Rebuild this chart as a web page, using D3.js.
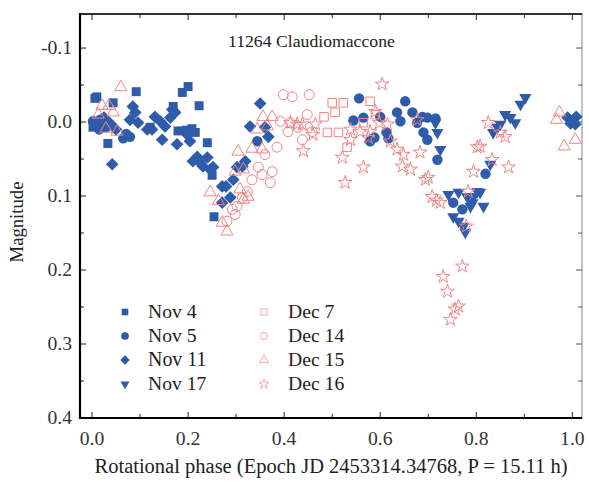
<!DOCTYPE html>
<html><head><meta charset="utf-8">
<script src="https://cdn.jsdelivr.net/npm/d3@7"></script>
<style>body{margin:0;background:#fff}svg{display:block}</style>
</head><body>
<svg id="c" width="589" height="483"></svg>
<script>
// ---- data: [phase, magnitude] ----
const nov4 = [[0.006,-0.032],[0.010,-0.034],[0.044,-0.026],[0.092,-0.041],[0.169,-0.021],[0.188,-0.040],[0.200,-0.048],[0.223,-0.022],[0.179,0.012],[0.208,0.009],[0.215,0.014],[0.240,0.028],[0.033,0.029],[0.250,0.072],[0.254,0.128],[0.002,0.007],[0.025,0.006],[0.121,0.007],[0.196,0.011]];
const nov5 = [[0.002,-0.001],[0.008,0.005],[0.015,0.010],[0.023,0.002],[0.017,-0.003],[0.029,0.007],[0.065,0.022],[0.079,0.020],[0.071,0.016],[0.344,0.026],[0.544,-0.002],[0.556,-0.032],[0.565,-0.006],[0.579,0.026],[0.588,0.021],[0.600,-0.007],[0.613,0.014],[0.617,0.022],[0.635,-0.013],[0.642,-0.001],[0.652,-0.028],[0.667,-0.013],[0.677,0.001],[0.688,-0.007],[0.698,-0.006],[0.715,-0.005],[0.690,0.014],[0.698,0.024],[0.719,0.051],[0.819,0.070],[0.752,0.109],[0.771,0.118]];
const nov11 = [[0.010,0.003],[0.025,-0.006],[0.038,0.002],[0.050,0.010],[0.042,0.057],[0.079,-0.003],[0.085,-0.021],[0.090,-0.013],[0.096,0.001],[0.115,0.010],[0.125,0.010],[0.131,-0.007],[0.142,-0.001],[0.146,0.024],[0.152,0.006],[0.163,-0.006],[0.167,-0.017],[0.173,-0.013],[0.177,0.030],[0.198,0.017],[0.204,0.026],[0.210,0.053],[0.219,0.047],[0.225,0.055],[0.231,0.060],[0.240,0.048],[0.246,0.064],[0.252,0.061],[0.271,0.087],[0.279,0.087],[0.288,0.102],[0.271,0.109],[0.294,0.078],[0.302,0.061],[0.319,0.053],[0.313,0.060],[0.329,0.006],[0.350,-0.025],[0.360,0.007],[0.367,0.020],[0.990,-0.006],[1.000,-0.002],[1.008,-0.007],[0.996,0.002],[1.006,0.003]];
const nov17 = [[0.715,0.001],[0.719,0.014],[0.725,0.037],[0.742,0.098],[0.752,0.128],[0.763,0.095],[0.763,0.134],[0.773,0.141],[0.777,0.149],[0.781,0.101],[0.788,0.114],[0.792,0.109],[0.794,0.101],[0.802,0.094],[0.808,0.095],[0.815,0.114],[0.829,0.057],[0.835,0.014],[0.844,0.007],[0.850,0.003],[0.860,-0.010],[0.871,-0.006],[0.881,0.001],[0.892,-0.024],[0.902,-0.033]];
const dec7 = [[0.483,-0.007],[0.490,0.014],[0.500,-0.026],[0.506,-0.013],[0.513,0.014],[0.523,-0.026],[0.531,0.034],[0.565,0.001],[0.579,-0.028],[0.590,-0.010]];
const dec14 = [[0.398,-0.037],[0.417,-0.034],[0.452,-0.037],[0.448,-0.010],[0.392,-0.001],[0.413,0.001],[0.408,0.013],[0.429,0.007],[0.458,0.013],[0.438,0.024],[0.385,0.034],[0.360,0.044],[0.346,0.061],[0.354,0.071],[0.375,0.067],[0.371,0.082],[0.333,0.078],[0.323,0.094],[0.313,0.102],[0.302,0.114],[0.292,0.118],[0.298,0.125],[0.281,0.134]];
const dec15 = [[0.013,-0.010],[0.021,-0.022],[0.029,0.009],[0.035,-0.022],[0.044,-0.013],[0.052,0.013],[0.060,-0.047],[0.246,0.095],[0.263,0.107],[0.271,0.136],[0.281,0.148],[0.298,0.067],[0.304,0.040],[0.315,0.064],[0.308,0.091],[0.315,0.105],[0.325,0.101],[0.333,0.036],[0.344,0.010],[0.354,0.037],[0.356,-0.007],[0.365,0.006],[0.375,-0.007],[0.967,-0.003],[0.973,-0.013],[0.983,0.033],[1.006,0.024]];
const dec16 = [[0.413,0.001],[0.427,0.003],[0.440,0.039],[0.438,0.003],[0.465,0.003],[0.460,0.017],[0.521,0.048],[0.527,0.082],[0.538,0.010],[0.538,0.024],[0.558,0.013],[0.565,0.061],[0.575,0.021],[0.579,0.013],[0.590,-0.014],[0.598,0.001],[0.604,-0.051],[0.615,0.003],[0.621,0.026],[0.635,0.037],[0.648,0.044],[0.646,0.060],[0.663,0.064],[0.677,-0.003],[0.683,0.041],[0.694,0.078],[0.700,0.075],[0.708,0.101],[0.717,0.106],[0.725,0.109],[0.783,0.094],[0.779,0.141],[0.794,0.067],[0.802,0.034],[0.808,0.033],[0.825,0.001],[0.833,0.051],[0.850,0.014],[0.860,0.020],[0.867,0.061],[0.771,0.195],[0.731,0.209],[0.740,0.229],[0.763,0.249],[0.756,0.253],[0.746,0.267]];
const seriesNames = ["Nov 4","Nov 5","Nov 11","Nov 17","Dec 7","Dec 14","Dec 15","Dec 16"];
const xTicks = [0.0,0.2,0.4,0.6,0.8,1.0];
const yTicks = [-0.1,0.0,0.1,0.2,0.3,0.4];
const title = "11264 Claudiomaccone";
const xLabel = "Rotational phase (Epoch JD 2453314.34768, P = 15.11 h)";
const yLabel = "Magnitude";

const BLUE = "#2f5bab", PINK = "#f08585";
const svg = d3.select("#c");
const L=80,R=582,T=14,B=418;
const x = d3.scaleLinear().domain([-0.025,1.02]).range([L,R]);
const y = d3.scaleLinear().domain([-0.146,0.4]).range([T,B]);

// Times-compatible advance widths (em) used to size short labels
const EM = {"0":.5,"1":.5,"2":.5,"3":.5,"4":.5,"5":.5,"6":.5,"7":.5,"8":.5,"9":.5,".":.25,"-":.333," ":.25,"N":.722,"o":.5,"v":.5,"D":.722,"e":.444,"c":.444};
const emWidth = s => [...s].reduce((a,ch)=>a+(EM[ch]||.5),0);

// every text is a direct child of the svg, serif font set inline and fitted to a width
function txt(sel,size,fill,width){
  sel.each(function(){
    this.setAttribute("fill",fill||"#222");
    this.setAttribute("font-family","Liberation Serif");
    this.style.fontFamily='"Liberation Serif", monospace';
    this.style.fontSize=size+"px";
    const target = width || emWidth(this.textContent)*size*1.003;
    const w=this.getComputedTextLength();
    this.style.fontSize=(size*target/w).toFixed(2)+"px";
  });
  return sel;
}

const diamond = {draw(ctx,size){const r=Math.sqrt(size)/Math.SQRT2;ctx.moveTo(0,-r);ctx.lineTo(r,0);ctx.lineTo(0,r);ctx.lineTo(-r,0);ctx.closePath();}};
const triDown = {draw(ctx,size){const s=Math.sqrt(size*4/Math.sqrt(3));const h=s*Math.sqrt(3)/2;ctx.moveTo(-s/2,-h/3);ctx.lineTo(s/2,-h/3);ctx.lineTo(0,2*h/3);ctx.closePath();}};
const triUp = {draw(ctx,size){const s=Math.sqrt(size*4/Math.sqrt(3));const h=s*Math.sqrt(3)/2;ctx.moveTo(-s/2,h/3);ctx.lineTo(s/2,h/3);ctx.lineTo(0,-2*h/3);ctx.closePath();}};

const defs = [
 {name:seriesNames[0],data:nov4,type:d3.symbolSquare,size:80,fill:BLUE},
 {name:seriesNames[1],data:nov5,type:d3.symbolCircle,size:85,fill:BLUE},
 {name:seriesNames[2],data:nov11,type:diamond,size:80,fill:BLUE},
 {name:seriesNames[3],data:nov17,type:triDown,size:64,fill:BLUE},
 {name:seriesNames[4],data:dec7,type:d3.symbolSquare,size:72,fill:null},
 {name:seriesNames[5],data:dec14,type:d3.symbolCircle,size:78,fill:null},
 {name:seriesNames[6],data:dec15,type:triUp,size:64,fill:null},
 {name:seriesNames[7],data:dec16,type:d3.symbolStar,size:58,fill:null}
];

// frame
svg.append("rect").attr("x",L).attr("y",T).attr("width",R-L).attr("height",B-T).attr("fill","none").attr("stroke","#999").attr("stroke-width",1.2);
// ticks
const g = svg.append("g").attr("stroke","#222").attr("stroke-width",1);
d3.range(0,1.01,0.1).forEach(v=>{const major=Math.round(v*10)%2===0;const len=major?6:4;
  g.append("line").attr("x1",x(v)).attr("x2",x(v)).attr("y1",B).attr("y2",B-len);
  g.append("line").attr("x1",x(v)).attr("x2",x(v)).attr("y1",T).attr("y2",T+len);});
d3.range(-0.1,0.401,0.05).forEach(v=>{const major=Math.abs(Math.round(v*20))%2===0;const len=major?6:4;
  g.append("line").attr("y1",y(v)).attr("y2",y(v)).attr("x1",L).attr("x2",L+len);
  g.append("line").attr("y1",y(v)).attr("y2",y(v)).attr("x1",R).attr("x2",R-len).attr("stroke","#555");});
svg.append("line").attr("x1",L).attr("x2",L).attr("y1",T-1).attr("y2",B+1).attr("stroke","#000").attr("stroke-width",2.2);
svg.append("line").attr("x1",L-1).attr("x2",R).attr("y1",B).attr("y2",B).attr("stroke","#000").attr("stroke-width",2);
svg.append("line").attr("x1",L-1).attr("x2",R).attr("y1",T).attr("y2",T).attr("stroke","#000").attr("stroke-width",1.6);

// tick labels
xTicks.forEach(d=>txt(svg.append("text").attr("x",x(d)).attr("y",445).attr("text-anchor","middle").text(d.toFixed(1)),19.6,"#333"));
yTicks.forEach(d=>txt(svg.append("text").attr("x",72).attr("y",y(d)+6).attr("text-anchor","end").text(d.toFixed(1)),19.6,"#333"));

// axis titles
txt(svg.append("text").attr("x",331).attr("y",473).attr("text-anchor","middle").text(xLabel),19,"#222",473);
txt(svg.append("text").attr("transform","translate(23,222) rotate(-90)").attr("text-anchor","middle").text(yLabel),19,"#222",81);
txt(svg.append("text").attr("x",228).attr("y",47).text(title),18,"#222",167);

// points
const plot = svg.append("g");
defs.forEach(s=>{
  plot.append("g").selectAll("path").data(s.data).join("path")
   .attr("transform",d=>`translate(${x(d[0])},${y(d[1])})`)
   .attr("d",d3.symbol().type(s.type).size(s.size))
   .attr("fill",s.fill?s.fill:"none").attr("stroke",s.fill?"none":PINK).attr("stroke-width",1);
});

// legend
defs.forEach((s,i)=>{
  const col=i<4?0:1,row=i%4;
  const mx=col?264:125,tx=col?288:148,yy=312+row*24;
  svg.append("path").attr("transform",`translate(${mx},${yy})`).attr("d",d3.symbol().type(s.type).size(s.size*0.55))
    .attr("fill",s.fill?s.fill:"none").attr("stroke",s.fill?"none":"#f5aaaa").attr("stroke-width",1);
  txt(svg.append("text").attr("x",tx).attr("y",yy+6).text(s.name),19.6);
});
</script>
</body></html>
